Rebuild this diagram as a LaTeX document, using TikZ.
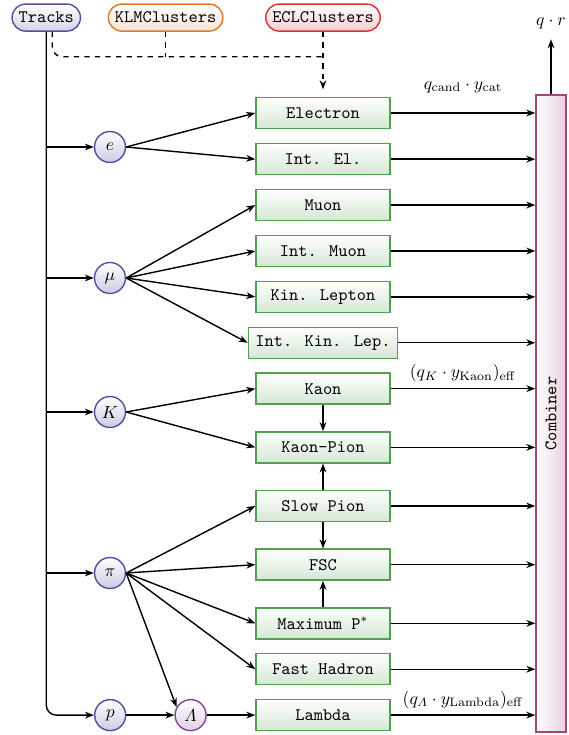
\documentclass[tikz,border=0pt]{standalone}
\usepackage{amsmath}
\usepackage{graphicx}
\usetikzlibrary{positioning,calc,arrows.meta}
\definecolor{trkblue}{RGB}{80,80,160}
\definecolor{klmorange}{RGB}{220,120,40}
\definecolor{eclred}{RGB}{215,50,50}
\definecolor{catgreen}{RGB}{80,160,80}
\definecolor{combpink}{RGB}{160,70,120}
\definecolor{lampurple}{RGB}{130,70,150}

\begin{document}
\begin{tikzpicture}[>={Stealth[length=1.8mm]},thick,
      src/.style={draw,rounded corners=2.7mm,minimum height=5.4mm,inner xsep=3.7pt,font=\ttfamily},
      cat/.style={draw=catgreen,top color=white,bottom color=catgreen!25,minimum width=26.8mm,minimum height=6.2mm,inner xsep=4pt,font=\ttfamily},
      part/.style={circle,draw=trkblue,top color=white,bottom color=trkblue!30,minimum size=6.2mm,inner sep=0pt},
      comb/.style={draw=combpink,left color=white,right color=combpink!25,minimum width=6mm,minimum height=127.4mm,inner sep=0pt}]
    \useasboundingbox (-64.6mm,22.6mm) rectangle (49mm,-124.4mm);
    % categories
    \node[cat] (el) {Electron};
    \node[cat,below=2.75mm of el] (intel) {Int. El.};
    \node[cat,below=2.7mm of intel] (muon) {Muon};
    \node[cat,below=2.7mm of muon] (intmu) {Int. Muon};
    \node[cat,below=2.7mm of intmu] (kinlep) {Kin. Lepton};
    \node[cat,below=2.7mm of kinlep] (intkin) {Int. Kin. Lep.};
    \node[cat,below=2.7mm of intkin] (kaon) {Kaon};
    \node[cat,below=5.25mm of kaon] (kpi) {Kaon-Pion};
    \node[cat,below=5.25mm of kpi] (slowpi) {Slow Pion};
    \node[cat,below=5.25mm of slowpi] (fsc) {FSC};
    \node[cat,below=5.25mm of fsc] (maxp) {Maximum P$^*$};
    \node[cat,below=2.7mm of maxp] (fasth) {Fast Hadron};
    \node[cat,below=2.7mm of fasth] (lambda) {Lambda};
    % particles
    \node[part] (e) at (-42.6mm,-6.8mm) {$e$};
    \node[part] (mu) at (-42.6mm,-33mm) {$\mu$};
    \node[part] (k) at (-42.6mm,-59.8mm) {$K$};
    \node[part] (pi) at (-42.6mm,-92mm) {$\pi$};
    \node[part,draw=lampurple,bottom color=lampurple!25,left=9.7mm of lambda] (lam) {$\varLambda$};
    \node[part,left=9.6mm of lam] (p) {$p$};
    % inputs
    \node[src,draw=eclred,top color=white,bottom color=eclred!25,above=13mm of el] (ecl) {ECLClusters};
    \node[src,draw=klmorange,top color=white,bottom color=klmorange!20,left=8.3mm of ecl] (klm) {KLMClusters};
    \node[src,draw=trkblue,top color=white,bottom color=trkblue!25,left=5.3mm of klm] (tracks) {Tracks};
    % combiner
    \node[comb] (comb) at (45.6mm,-60.1mm) {\rotatebox{90}{\ttfamily Combiner}};
    \coordinate[above=11mm of comb.north] (out);
    \coordinate (bus) at ([yshift=-5mm]ecl.south);

    \foreach \n in {e,mu,k,pi} \draw[->] (tracks.south) |- (\n);
    \draw[->,rounded corners=2mm] (tracks.south) |- (p);
    \draw[dashed,rounded corners=2mm] ([xshift=1.2mm]tracks.south) |- (bus);
    \draw[dashed] (klm.south) -- (klm.south |- bus);
    \draw[dashed,->,shorten >=1.5mm] (ecl.south) -- (el.north);

    \foreach \t in {el,intel} \draw[->] (e.east) -- (\t.west);
    \foreach \t in {muon,intmu,kinlep,intkin} \draw[->] (mu.east) -- (\t.west);
    \foreach \t in {kaon,kpi} \draw[->] (k.east) -- (\t.west);
    \foreach \t in {slowpi,fsc,maxp,fasth} \draw[->] (pi.east) -- (\t.west);
    \draw[->] (pi.east) -- (lam.150);
    \draw[->] (p) -- (lam);
    \draw[->] (lam) -- (lambda);

    \draw[->] (kaon) -- (kpi);
    \draw[->] (slowpi) -- (kpi);
    \draw[->] (slowpi) -- (fsc);
    \draw[->] (maxp) -- (fsc);

    \draw[->] (el) -- node[above=2.8mm]{$q_{\mathrm{cand}}\cdot y_{\mathrm{cat}}$} (el -| comb.west);
    \draw[->] (kaon) -- node[above]{$(q_K\cdot y_{\mathrm{Kaon}})_{\mathrm{eff}}$} (kaon -| comb.west);
    \draw[->] (lambda) -- node[above]{$(q_{\varLambda}\cdot y_{\mathrm{Lambda}})_{\mathrm{eff}}$} (lambda -| comb.west);
    \foreach \n in {intel,muon,intmu,kinlep,intkin,kpi,slowpi,fsc,maxp,fasth}
      \draw[->] (\n) -- (\n -| comb.west);
    \draw[->] (comb) -- (out) node[above=2pt]{$q\cdot r$};
  \end{tikzpicture}
\end{document}
